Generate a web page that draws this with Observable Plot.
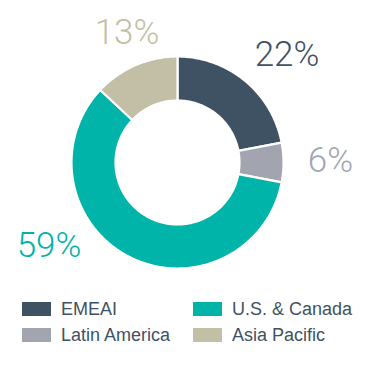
<!DOCTYPE html>
<html>
<head>
<meta charset="utf-8">
<script src="https://cdn.jsdelivr.net/npm/d3@7"></script>
<script src="https://cdn.jsdelivr.net/npm/@observablehq/plot@0.6"></script>
<style>
  html, body { margin: 0; padding: 0; background: #fff; }
  #chart svg { display: block; }
  .legend { display: grid; grid-template-columns: 171px 170px; row-gap: 12px;
            padding-left: 22px; margin-top: 12px;
            font-family: "Liberation Sans", Arial, sans-serif; font-size: 18px; color: #3f5263; }
  .item { display: flex; align-items: center; height: 14px; line-height: 14px; white-space: nowrap; }
  .sw { width: 29px; height: 14px; margin-right: 10px; flex: none; }
</style>
</head>
<body>
<div id="chart"></div>
<div class="legend" id="legend"></div>
<script>
// Data
const categories = ["EMEAI", "Latin America", "U.S. & Canada", "Asia Pacific"];
const shares = [22, 6, 59, 13];
const valueLabels = ["22%", "6%", "59%", "13%"];

// Style / layout (not data)
const palette = ["#3f5263", "#a2a5af", "#00b4aa", "#c3bea6"];
const legendOrder = ["EMEAI", "U.S. & Canada", "Latin America", "Asia Pacific"];
const labelAt = { // label centre, in donut-radius units
  "EMEAI": [1.043, 1.024],
  "Latin America": [1.457, 0.014],
  "U.S. & Canada": [-1.224, -0.79],
  "Asia Pacific": [-0.481, 1.233]
};
const W = 381, H = 290, cx = 177, cy = 162, R = 105;
const innerRatio = 62 / 105;
const outer = 106 / 105;

const data = categories.map((c, i) => ({category: c, share: shares[i], label: valueLabels[i]}));
const arcs = d3.pie().sort(null).value(d => d.share)(data);

// slice outlines as polygons in donut units (angle 0 = 12 o'clock, clockwise)
const ring = [];
for (const a of arcs) {
  const n = Math.max(2, Math.ceil((a.endAngle - a.startAngle) / (Math.PI / 180)));
  for (let k = 0; k <= n; k++) {
    const t = a.startAngle + (a.endAngle - a.startAngle) * k / n;
    ring.push({category: a.data.category, x: outer * Math.sin(t), y: outer * Math.cos(t)});
  }
  for (let k = n; k >= 0; k--) {
    const t = a.startAngle + (a.endAngle - a.startAngle) * k / n;
    ring.push({category: a.data.category, x: innerRatio * Math.sin(t), y: innerRatio * Math.cos(t)});
  }
}

const labelData = data.map(d => ({...d, lx: labelAt[d.category][0], ly: labelAt[d.category][1]}));

const chart = Plot.plot({
  width: W, height: H,
  marginTop: 0, marginRight: 0, marginBottom: 0, marginLeft: 0,
  x: {domain: [-cx / R, (W - cx) / R], range: [0, W], axis: null},
  y: {domain: [(cy - H) / R, cy / R], range: [H, 0], axis: null},
  color: {domain: categories, range: palette},
  style: {background: "white"},
  marks: [
    Plot.line(ring, {x: "x", y: "y", z: "category", fill: "category", stroke: "white", strokeWidth: 2.2, curve: "linear-closed"}),
    Plot.text(labelData, {x: "lx", y: "ly", text: "label", fill: "category",
      fontSize: 35, fontWeight: 300, fontFamily: "Roboto, 'Liberation Sans', sans-serif",
      textAnchor: "middle", lineAnchor: "middle"})
  ]
});
document.getElementById("chart").appendChild(chart);

const legend = document.getElementById("legend");
for (const c of legendOrder) {
  const i = categories.indexOf(c);
  const item = document.createElement("div");
  item.className = "item";
  const sw = document.createElement("span");
  sw.className = "sw";
  sw.style.background = palette[i];
  const tx = document.createElement("span");
  tx.textContent = c;
  item.appendChild(sw); item.appendChild(tx);
  legend.appendChild(item);
}
</script>
</body>
</html>
